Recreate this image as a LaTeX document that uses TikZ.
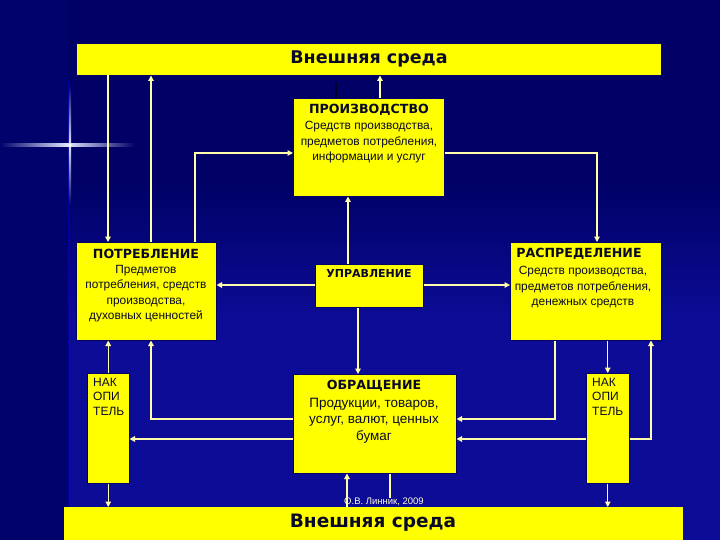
\documentclass[tikz,border=0pt]{standalone}
\usepackage{fontspec}
\setmainfont{Liberation Sans}
\newfontfamily\titlefont{DejaVu Sans}
\usetikzlibrary{arrows.meta}
\definecolor{bgdark}{RGB}{0,0,102}
\definecolor{bglight}{RGB}{12,12,150}
\definecolor{bgleft}{RGB}{2,2,108}
\definecolor{boxyellow}{RGB}{255,255,0}
\definecolor{linecol}{RGB}{255,255,170}
\definecolor{txtdark}{RGB}{10,10,40}
\definecolor{flare}{RGB}{225,230,255}
\tikzset{
  box/.style={fill=boxyellow, draw=black!60!blue, line width=0.5pt, inner sep=0pt, anchor=north west},
  ttl/.style={font=\titlefont\bfseries\fontsize{12.6}{14}\selectfont, text=txtdark, inner sep=0pt},
  body/.style={font=\fontsize{11.9}{15.5}\selectfont, text=txtdark, align=center, inner sep=0pt, anchor=north},
  conn/.style={draw=linecol, line width=1.2pt},
  arr/.style={conn, -{Triangle[length=5.5pt,width=5.5pt]}}
}
\begin{document}
\begin{tikzpicture}[x=1pt,y=-1pt]
\useasboundingbox (0,0) rectangle (720,540);
% background
\fill[bgleft] (0,0) rectangle (720,540);
\fill[bgdark] (68,0) rectangle (720,180);
\shade[top color=bgdark, bottom color=bglight] (68,180) rectangle (720,320);
\fill[bglight] (68,320) rectangle (720,540);
\draw[blue!40!bgdark, line width=0.8pt] (68,80) -- (68,540);
% flare
\shade[left color=bgleft, right color=bgdark, middle color=flare] (0,144) rectangle (135,146.5);
\shade[top color=bgleft, bottom color=bgleft, middle color=flare] (68.8,85) rectangle (71.2,205);
\fill[white] (70,145.2) circle (1.6);

% boxes
\node[box, minimum width=585, minimum height=32] (top) at (76,43) {};
\node[box, minimum width=151, minimum height=98] (prod) at (293,98) {};
\node[box, minimum width=140, minimum height=98] (cons) at (76,242) {};
\node[box, minimum width=151, minimum height=98] (dist) at (510,242) {};
\node[box, minimum width=108, minimum height=43] (upr) at (315,264) {};
\node[box, minimum width=42, minimum height=110] (nakL) at (87,373) {};
\node[box, minimum width=43, minimum height=110] (nakR) at (586,373) {};
\node[box, minimum width=163, minimum height=99] (obr) at (293,374) {};
\node[box, minimum width=619, minimum height=40, draw=none] (bot) at (64,507) {};

% texts
\node[ttl, font=\titlefont\bfseries\fontsize{17.5}{19}\selectfont] (topT) at (369,59) {Внешняя среда};
\node[ttl, font=\titlefont\bfseries\fontsize{18.5}{20}\selectfont] (botT) at (373,523) {Внешняя среда};
\node[ttl] (prodT) at (369,110) {ПРОИЗВОДСТВО};
\node[body] (prodB) at (369,121) {Средств производства,\\предметов потребления,\\информации и услуг};
\node[ttl] (consT) at (146,254) {ПОТРЕБЛЕНИЕ};
\node[body] (consB) at (146,265) {Предметов\\потребления, средств\\производства,\\духовных ценностей};
\node[ttl] (distT) at (579,254) {РАСПРЕДЕЛЕНИЕ};
\node[body] (distB) at (583,266) {Средств производства,\\предметов потребления,\\денежных средств};
\node[ttl, font=\titlefont\bfseries\fontsize{11}{13}\selectfont] (uprT) at (369,273) {УПРАВЛЕНИЕ};
\node[ttl] (obrT) at (374,386) {ОБРАЩЕНИЕ};
\node[body, font=\fontsize{13.5}{16.5}\selectfont] (obrB) at (374,398) {Продукции, товаров,\\услуг, валют, ценных\\бумаг};
\node[body, anchor=north west, align=left, font=\fontsize{12}{14.5}\selectfont] (nakLT) at (93,378) {НАК\\ОПИ\\ТЕЛЬ};
\node[body, anchor=north west, align=left, font=\fontsize{12}{14.5}\selectfont] (nakRT) at (592,378) {НАК\\ОПИ\\ТЕЛЬ};
\node[inner sep=0pt, text=white!85!yellow, font=\fontsize{9.5}{11}\selectfont] (credit) at (384,502) {О.В. Линник, 2009};

% column / row coordinates
\coordinate (xA) at (108,0);
\coordinate (xB) at (151,0);
\coordinate (xC) at (195,0);
\coordinate (xD) at (597,0);
\coordinate (xE) at (348,0);
\coordinate (xF) at (358,0);
\coordinate (xG) at (380,0);
\coordinate (xH) at (555,0);
\coordinate (xJ) at (651,0);
\coordinate (xK) at (347,0);
\coordinate (xL) at (390,0);
\coordinate (xM) at (336,0);
\coordinate (yP) at (0,153);
\coordinate (yU) at (0,285);
\coordinate (yO1) at (0,419);
\coordinate (yO2) at (0,439);

% connectors
\draw[arr] (top.south -| xA) -- (cons.north -| xA);
\draw[arr] (cons.north -| xB) -- (top.south -| xB);
\draw[arr] (cons.north -| xC) |- (prod.west |- yP);
\draw[arr] (prod.east |- yP) -| (dist.north -| xD);
\draw[arr] (prod.north -| xG) -- (top.south -| xG);
\draw[black!85!blue, line width=2.5pt] (top.south -| xM) ++(0,7) -- (prod.north -| xM);
\draw[arr] (upr.north -| xE) -- (prod.south -| xE);
\draw[arr] (upr.west |- yU) -- (cons.east |- yU);
\draw[arr] (upr.east |- yU) -- (dist.west |- yU);
\draw[arr] (upr.south -| xF) -- (obr.north -| xF);
\draw[arr] (nakL.north) -- (cons.south -| nakL.north);
\draw[arr] (nakL.south) -- (bot.north -| nakL.south);
\draw[arr] (obr.west |- yO1) -| (cons.south -| xB);
\draw[arr] (obr.west |- yO2) -- (nakL.east |- yO2);
\draw[arr] (dist.south -| xH) |- (obr.east |- yO1);
\draw[arr] (nakR.west |- yO2) -- (obr.east |- yO2);
\draw[arr] (nakR.east |- yO2) -| (dist.south -| xJ);
\draw[arr] (dist.south -| nakR.north) -- (nakR.north);
\draw[arr] (nakR.south) -- (bot.north -| nakR.south);
\draw[arr] (bot.north -| xK) -- (obr.south -| xK);
\draw[conn] (obr.south -| xL) -- (credit.north -| xL);
\end{tikzpicture}
\end{document}
